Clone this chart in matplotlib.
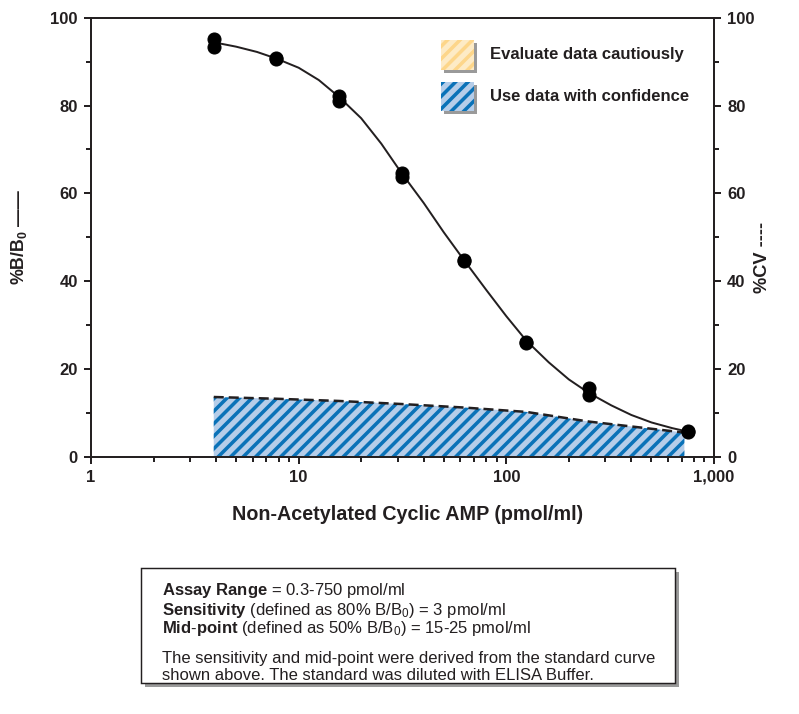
import numpy as np
import matplotlib
matplotlib.use('Agg')
import matplotlib.pyplot as plt
from matplotlib.patches import Rectangle
from matplotlib.ticker import FixedLocator, LogLocator, NullFormatter

# dpi 75 so that a '//' hatch gives ~12.5 px stripe spacing
DPI = 75
W, H = 799, 714

plt.rcParams['font.family'] = 'Liberation Sans'
plt.rcParams['mathtext.fontset'] = 'custom'
plt.rcParams['mathtext.rm'] = 'Liberation Sans'
plt.rcParams['mathtext.bf'] = 'Liberation Sans:bold'
plt.rcParams['mathtext.it'] = 'Liberation Sans:italic'
plt.rcParams['hatch.linewidth'] = 3.4

ink = '#231f20'
blue_bg = '#b5cde9'
blue_hatch = '#0a72b8'
yellow_bg = '#fdebc6'
yellow_hatch = '#fdd68a'
shadow = '#9a9a9a'

# standard curve data (pmol/ml, %B/B0), duplicate wells
conc = [3.9, 7.8, 15.6, 31.3, 62.5, 125, 250, 750]
b_b0_rep1 = [95.1, 90.5, 82.2, 64.6, 44.9, 26.2, 15.6, 5.8]
b_b0_rep2 = [93.3, 90.8, 81.0, 63.6, 44.6, 26.0, 14.0, 5.6]

# fitted curve
curve_conc = [3.9, 5.0, 6.3, 7.8, 10, 12.5, 15.6, 20, 25, 31.3, 40, 50, 62.5,
              80, 100, 125, 160, 200, 250, 320, 400, 500, 630, 750]
curve_vals = [94.4, 93.4, 92.2, 90.7, 88.6, 85.8, 82.0, 77.1, 71.3, 64.6, 57.8, 51.1, 44.8,
              38.0, 32.0, 26.4, 21.5, 17.6, 14.5, 11.7, 9.5, 7.8, 6.5, 5.7]

# %CV
cv_conc = [3.9, 7.8, 15.6, 31.3, 62.5, 125, 250, 720]
cv_vals = [13.6, 13.2, 12.7, 12.0, 11.2, 10.2, 8.0, 5.5]

x_ticks = [1, 10, 100, 1000]
x_ticklabels = ['1', '10', '100', '1,000']
y_ticks = [0, 20, 40, 60, 80, 100]

legend_labels = ['Evaluate data cautiously', 'Use data with confidence']


def fx(px):
    return px / W


def fy(py):
    return 1 - py / H


fig = plt.figure(figsize=(W / DPI, H / DPI), dpi=DPI)
ax = fig.add_axes([fx(91), fy(456.7), fx(714) - fx(91), fy(17.7) - fy(456.7)])

ax.set_xscale('log')
ax.set_xlim(1, 1000)
ax.set_ylim(0, 100)

ax.fill_between(cv_conc, 0, cv_vals, facecolor=blue_bg, edgecolor=blue_hatch,
                hatch='//', linewidth=0, zorder=1)
ax.plot(cv_conc, cv_vals, color=ink, lw=2.4, dashes=(4, 2), zorder=2)
ax.plot(curve_conc, curve_vals, color=ink, lw=1.9, zorder=3)
ax.plot(conc, b_b0_rep1, 'o', color='black', ms=12.5, zorder=4)
ax.plot(conc, b_b0_rep2, 'o', color='black', ms=12.5, zorder=4)

for s in ax.spines.values():
    s.set_color(ink)
    s.set_linewidth(1.9)

ax.xaxis.set_major_locator(FixedLocator(x_ticks))
ax.set_xticklabels(x_ticklabels)
ax.xaxis.set_minor_locator(LogLocator(base=10, subs=np.arange(2, 10)))
ax.xaxis.set_minor_formatter(NullFormatter())
ax.set_yticks(y_ticks)
ax.set_yticks([10, 30, 50, 70, 90], minor=True)

ax.tick_params(which='both', direction='out', color=ink, width=1.9,
               left=True, right=True, top=False, labelright=True)
ax.tick_params(which='major', length=6.5, pad=6, labelsize=16, labelcolor=ink)
ax.tick_params(which='minor', length=5)
for lab in ax.get_xticklabels() + ax.get_yticklabels():
    lab.set_fontweight('bold')
for t in ax.yaxis.get_major_ticks():
    t.label2.set_fontweight('bold')

# legend drawn by hand
for (top, bottom), bg, hc, label in zip([(40, 70), (82, 111)],
                                        [yellow_bg, blue_bg],
                                        [yellow_hatch, blue_hatch],
                                        legend_labels):
    fig.patches.append(Rectangle((fx(444), fy(bottom + 3)), fx(474) - fx(441), fy(top) - fy(bottom),
                                 transform=fig.transFigure, facecolor=shadow, edgecolor='none', zorder=5))
    fig.patches.append(Rectangle((fx(441), fy(bottom)), fx(474) - fx(441), fy(top) - fy(bottom),
                                 transform=fig.transFigure, facecolor=bg, edgecolor=hc,
                                 hatch='//', linewidth=0, zorder=6))
    fig.text(fx(490), fy((top + bottom) / 2), label, fontsize=16, fontweight='bold',
             color=ink, va='center', ha='left')

fig.text(fx(19), fy(237), r'%B/B$_\mathbf{0}$ ——', rotation=90, fontsize=17,
         fontweight='bold', color=ink, ha='center', va='center')
fig.text(fx(762), fy(257), '%CV ----', rotation=90, fontsize=17.5,
         fontweight='bold', color=ink, ha='center', va='center')
fig.text(fx(408), fy(515), 'Non-Acetylated Cyclic AMP (pmol/ml)', fontsize=19,
         fontweight='bold', color=ink, ha='center', va='center')

# info box
fig.patches.append(Rectangle((fx(145), fy(687)), fx(679) - fx(145), fy(572) - fy(687),
                             transform=fig.transFigure, facecolor=shadow, edgecolor='none', zorder=1))
fig.patches.append(Rectangle((fx(141), fy(683)), fx(675) - fx(141), fy(568) - fy(683),
                             transform=fig.transFigure, facecolor='white', edgecolor=ink,
                             linewidth=1.4, zorder=2))

box_lines = [
    (591, r'$\mathbf{Assay\ Range}$ = 0.3-750 pmol/ml'),
    (610, r'$\mathbf{Sensitivity}$ (defined as 80% B/B$_\mathrm{0}$) = 3 pmol/ml'),
    (629, r'$\mathbf{Mid}$-$\mathbf{point}$ (defined as 50% B/B$_\mathrm{0}$) = 15-25 pmol/ml'),
    (658, 'The sensitivity and mid-point were derived from the standard curve'),
    (676, 'shown above. The standard was diluted with ELISA Buffer.'),
]
for y, s in box_lines:
    fig.text(fx(162), fy(y), s, fontsize=16, color=ink, ha='left', va='center', zorder=3)

fig.savefig('out.png', dpi=DPI)
